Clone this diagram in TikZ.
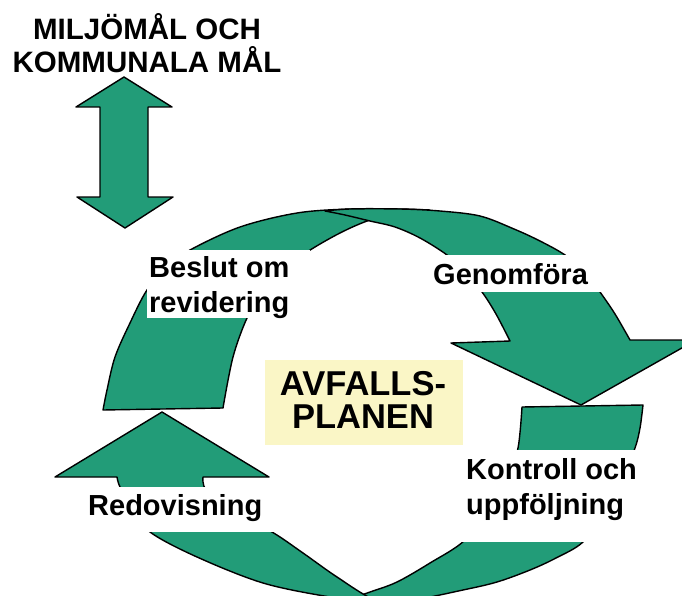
\documentclass[tikz,border=0pt]{standalone}
\usepackage{fontspec}
\setmainfont{Liberation Sans}
\definecolor{bandgreen}{RGB}{34,156,120}
\definecolor{planyellow}{RGB}{250,246,198}
\begin{document}
\begin{tikzpicture}[x=1pt,y=-1pt,
  band/.style={fill=bandgreen, draw=black, line width=1.4pt, line join=round},
  lbl/.style={font=\bfseries\fontsize{29}{29}\selectfont, inner sep=0pt, text=black},
  ttl/.style={font=\bfseries\fontsize{29.5}{29.5}\selectfont, inner sep=0pt, text=black},
  big/.style={font=\bfseries\fontsize{34.5}{34.5}\selectfont, inner sep=0pt, text=black},
  cover/.style={fill=white}]
\useasboundingbox (0,0) rectangle (682,596);
\clip (0,0) rectangle (682,596);
\fill[white] (0,0) rectangle (682,596);

% back band of the top arrow (tail on the left)
\path[band] plot[smooth, tension=0.55] coordinates {(103,410) (107,390) (115,357) (130,323) (147,290) (168,266) (190,250) (240,227) (297,213) (350,209) (400,209) (430,210)}
  -- plot[smooth, tension=0.55] coordinates {(430,210) (400,213) (370,220) (340,233) (307,252) (280,272) (262,293) (247,318) (233,357) (223,408)}
  -- cycle;
% front band of the top arrow with head
\path[band] plot[smooth, tension=0.55] coordinates {(325,211) (350,209) (400,209) (440,211) (480,216) (514,229) (540,241) (565,255) (585,272) (600,292) (615,314) (630,340)}
  -- (696,340) -- (581,405) -- (451,343) -- (510,341)
  -- plot[smooth, tension=0.55] coordinates {(510,341) (496,314) (482,292) (465,272) (447,255) (420,238) (395,227) (370,221) (345,215) (325,211)}
  -- cycle;
% back band of the bottom arrow (tail on the right)
\path[band] (522,407) -- (643,405)
  -- plot[smooth, tension=0.55] coordinates {(643,405) (640,428) (635,448) (622,480) (605,512) (583,542) (556,558) (530,570) (497,582) (463,590) (413,600) (370,603) (335,601)}
  -- plot[smooth, tension=0.55] coordinates {(335,601) (355,597) (370,592) (397,582) (430,563) (465,540) (490,505) (508,475) (518,448) (522,407)}
  -- cycle;
% front band of the bottom arrow with head
\path[band] plot[smooth, tension=0.55] coordinates {(410,605) (373,602) (330,597) (263,583) (197,557) (150,532) (132,508) (120,487) (117,477)}
  -- (55,477) -- (162,412) -- (269,477) -- (203,477)
  -- plot[smooth, tension=0.55] coordinates {(203,477) (206,490) (230,510) (272,532) (303,553) (337,577) (375,600) (410,605)}
  -- cycle;
% double arrow
\path[band] (124,77) -- (172,107) -- (148,107) -- (148,197) -- (173,197) -- (125,228)
  -- (77,197) -- (100,197) -- (100,107) -- (76,107) -- cycle;

% label backgrounds
\fill[cover] (147,250) rectangle (310,318);
\fill[cover] (431,255) rectangle (605,292);
\fill[cover] (460,450) rectangle (672,542);
\fill[cover] (85,487) rectangle (280,532);
\fill[planyellow] (265,360) rectangle (463,445);

% texts
\node[ttl, anchor=base] (t1) at (147,40) {MILJÖMÅL OCH};
\node[ttl, anchor=base] (t2) at (147,73) {KOMMUNALA MÅL};
\node[lbl, anchor=base west] (b1) at (149,277) {Beslut om};
\node[lbl, anchor=base west] (b2) at (149,312) {revidering};
\node[lbl, anchor=base west] (g) at (433,284) {Genomföra};
\node[big, anchor=base] (p1) at (363,395) {AVFALLS-};
\node[big, anchor=base] (p2) at (363,428) {PLANEN};
\node[lbl, anchor=base west] (k1) at (466,479) {Kontroll och};
\node[lbl, anchor=base west] (k2) at (466,514) {uppföljning};
\node[lbl, anchor=base west] (r) at (88,515) {Redovisning};
\end{tikzpicture}
\end{document}
